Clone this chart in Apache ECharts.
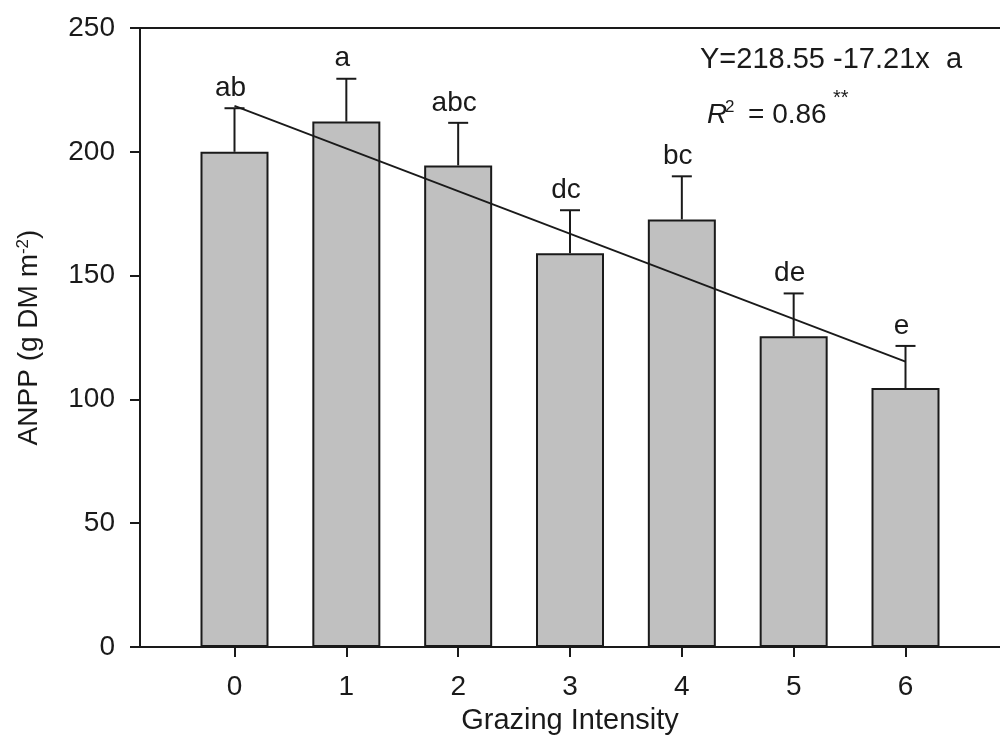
<!DOCTYPE html>
<html><head><meta charset="utf-8">
<script src="https://cdn.jsdelivr.net/npm/echarts@6/dist/echarts.min.js"></script>
<style>html,body{margin:0;padding:0;background:#fff}#c{width:1000px;height:740px}</style>
</head><body><div id="c"></div>
<script>
const categories = [0, 1, 2, 3, 4, 5, 6];
const anpp = [200.0, 212.2, 194.5, 159.0, 172.7, 125.5, 104.6];
const errors = [17.6, 17.3, 17.2, 17.4, 17.4, 17.3, 17.0];
const letters = ['ab', 'a', 'abc', 'dc', 'bc', 'de', 'e'];
const yTicks = [0, 50, 100, 150, 200, 250];
const regX = [0, 6];
const regY = [218.55, 115.29];

const FONT = '"Liberation Sans", Arial, sans-serif';
const INK = '#1a1a1a';
const chart = echarts.init(document.getElementById('c'), null, {renderer: 'canvas'});

const xMin = -0.845, xMax = 6.845;

chart.setOption({
  animation: false,
  backgroundColor: '#fff',
  grid: {left: 140, top: 28, width: 867, height: 621.5, containLabel: false},
  xAxis: [{
    type: 'value', min: xMin, max: xMax, position: 'bottom',
    name: 'Grazing Intensity', nameLocation: 'middle', nameGap: 59,
    nameTextStyle: {fontFamily: FONT, fontSize: 29, color: INK},
    axisLine: {show: true, onZero: false, lineStyle: {color: INK, width: 2}},
    axisTick: {show: true, inside: false, length: 10, customValues: categories, lineStyle: {color: INK, width: 2}},
    axisLabel: {show: true, margin: 26, customValues: categories, fontFamily: FONT, fontSize: 28, color: INK},
    splitLine: {show: false}
  }, {
    type: 'value', min: xMin, max: xMax, position: 'top',
    axisLine: {show: true, onZero: false, lineStyle: {color: INK, width: 2}},
    axisTick: {show: false}, axisLabel: {show: false}, splitLine: {show: false}
  }],
  yAxis: {
    type: 'value', min: yTicks[0], max: yTicks[yTicks.length - 1], interval: 50,
    name: 'ANPP (g DM m{sup|-2})', nameLocation: 'middle', nameGap: 96,
    nameTextStyle: {fontFamily: FONT, fontSize: 28, color: INK,
      rich: {sup: {fontFamily: FONT, fontSize: 17, color: INK, verticalAlign: 'top', padding: [0, 0, 12, 0]}}},
    axisLine: {show: true, onZero: false, lineStyle: {color: INK, width: 2}},
    axisTick: {show: true, inside: false, length: 10, lineStyle: {color: INK, width: 2}},
    axisLabel: {margin: 25, fontFamily: FONT, fontSize: 28, color: INK},
    splitLine: {show: false}
  },
  series: [{
    type: 'bar',
    data: categories.map((c, k) => [c, anpp[k]]),
    barWidth: 68,
    itemStyle: {color: '#c0c0c0', borderColor: INK, borderWidth: 2},
    z: 2
  }, {
    type: 'custom',
    data: categories.map((c, k) => [c, anpp[k], errors[k]]),
    renderItem: function (params, api) {
      const i = api.value(0), m = api.value(1), e = api.value(2);
      const base = api.coord([i, m]);
      const top = api.coord([i, m + e]);
      return {type: 'group', children: [
        {type: 'line', shape: {x1: base[0], y1: base[1], x2: top[0], y2: top[1]}, style: {stroke: INK, lineWidth: 2}},
        {type: 'line', shape: {x1: top[0] - 10, y1: top[1], x2: top[0] + 10, y2: top[1]}, style: {stroke: INK, lineWidth: 2}},
        {type: 'text', style: {text: letters[params.dataIndex], x: top[0] - 4, y: top[1] - 20,
          align: 'center', verticalAlign: 'middle', font: '28px ' + FONT, fill: INK}}
      ]};
    },
    z: 3
  }, {
    type: 'line',
    data: regX.map((x, k) => [x, regY[k]]),
    symbol: 'none',
    lineStyle: {color: INK, width: 1.8},
    z: 4
  }],
  graphic: [
    {type: 'text', left: 700, top: 45, style: {text: 'Y=218.55 -17.21x  a', font: '29px ' + FONT, fill: INK}},
    {type: 'text', left: 707, top: 101, style: {text: 'R', font: 'italic 28px ' + FONT, fill: INK}},
    {type: 'text', left: 725, top: 99, style: {text: '2', font: '17px ' + FONT, fill: INK}},
    {type: 'text', left: 748, top: 101, style: {text: '= 0.86', font: '28px ' + FONT, fill: INK}},
    {type: 'text', left: 833, top: 88, style: {text: '**', font: '20px ' + FONT, fill: INK}}
  ]
});
</script></body></html>
